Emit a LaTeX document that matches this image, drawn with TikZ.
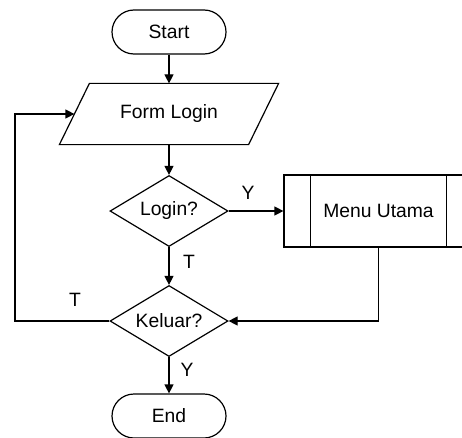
\documentclass[tikz,border=0pt]{standalone}
\usepackage{fontspec}
\setmainfont{Liberation Sans}
\usetikzlibrary{arrows.meta,positioning,shapes.geometric}

\begin{document}
\begin{tikzpicture}[x=1pt,y=1pt,>={Triangle[length=9pt,width=9pt]},
				line width=1.2pt,node distance=80pt,on grid,
				every node/.style={font=\fontsize{19.3}{21}\selectfont},
				terminal/.style={draw,rectangle,rounded corners=22pt,minimum width=114pt,minimum height=44pt},
				io/.style={rectangle,minimum width=188pt,minimum height=60pt},
				decision/.style={draw,diamond,aspect=1.66,minimum width=118pt,minimum height=71pt,inner sep=0pt},
				process/.style={draw,rectangle,minimum width=189pt,minimum height=72pt}
			]
			\useasboundingbox (0,0) rectangle (462,437);
			\node[terminal] (start) at (169,405) {Start};
			\node[io] (form) [below=82pt of start] {Form Login};
			\node[decision] (login) [below=97pt of form] {Login?};
			\node[process] (menu) [right=209.5pt of login] {Menu Utama};
			\node[decision] (keluar) [below=110pt of login] {Keluar?};
			\node[terminal] (end) [below=95pt of keluar] {End};
			% parallelogram of the input box
			\draw ([xshift=15pt]form.north west) -- ([xshift=15pt]form.north east)
			      -- ([xshift=-15pt]form.south east) -- ([xshift=-15pt]form.south west) -- cycle;
			% sides of the subprocess box
			\draw ([xshift=27pt]menu.north west) -- ([xshift=27pt]menu.south west)
			      ([xshift=-27pt]menu.north east) -- ([xshift=-27pt]menu.south east);
			\coordinate (back) at (15,116);
			\path[->]
				(start) edge (form)
				(form) edge (login)
				(login) edge (menu)
				(login) edge (keluar)
				(keluar) edge (end)
			;
			\draw[->] (menu.south) |- (keluar.east);
			\draw[->] (keluar.west) -- (back) |- (form.west);
			\node (ya1) at (248,244) {Y};
			\node (tidak1) at (189,175) {T};
			\node (tidak2) at (75,137) {T};
			\node (ya2) at (187,67) {Y};
		\end{tikzpicture}
\end{document}
